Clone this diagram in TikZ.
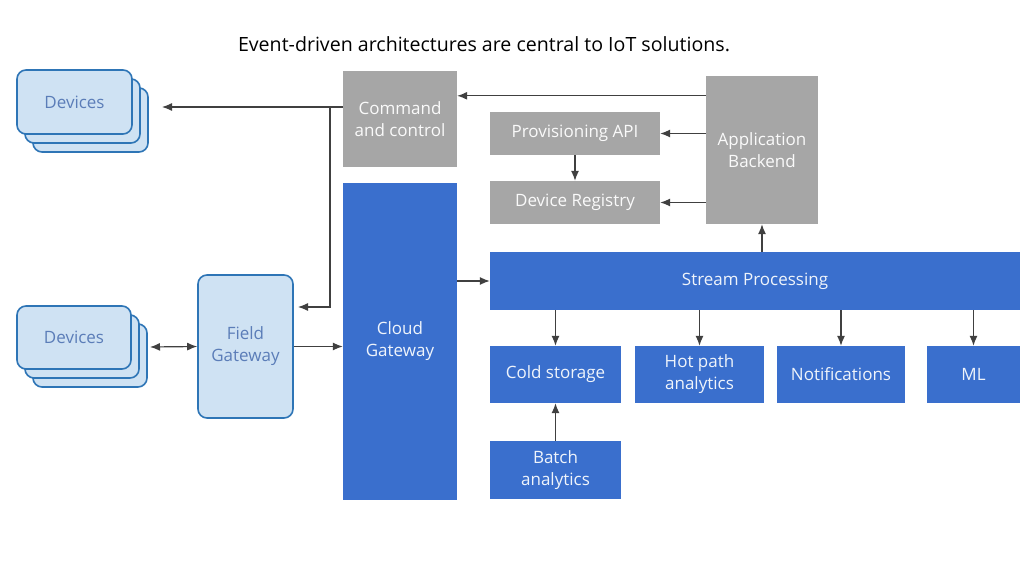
\documentclass[tikz,border=0pt]{standalone}
\usepackage{fontspec}
\setmainfont{Open Sans}
\usetikzlibrary{arrows.meta,shadows}

\definecolor{cloudblue}{HTML}{3A6FCD}
\definecolor{paleblue}{HTML}{CFE2F3}
\definecolor{edgeblue}{HTML}{2E75B6}
\definecolor{devtext}{HTML}{5B7DB8}
\definecolor{boxgray}{HTML}{A6A6A6}
\definecolor{arrowgray}{HTML}{404040}

\tikzset{
  bluebox/.style={fill=cloudblue,text=white!92!cloudblue,align=center,inner sep=0pt,font=\fontsize{17}{22}\selectfont},
  graybox/.style={fill=boxgray,text=white!94!boxgray,align=center,inner sep=0pt,font=\fontsize{17}{22}\selectfont},
  edgebox/.style={draw=edgeblue,line width=1.6pt,fill=paleblue,text=devtext,rounded corners=9pt,align=center,inner sep=0pt,font=\fontsize{17}{22}\selectfont},
  arr/.style={draw=arrowgray,line width=1.2pt,-{Latex[length=10pt,width=8pt]}},
  arrboth/.style={draw=arrowgray,line width=1.2pt,{Latex[length=10pt,width=8pt]}-{Latex[length=10pt,width=8pt]}}
}

\begin{document}
\begin{tikzpicture}[x=1pt,y=-1pt]
\useasboundingbox (0,0) rectangle (1034,564);
\fill[white] (0,0) rectangle (1034,564);
\node[font=\fontsize{19.6}{24}\selectfont] (title) at (484,44) {Event-driven architectures are central to IoT solutions.};

  \begin{scope}[every node/.append style={double copy shadow={shadow xshift=8pt,shadow yshift=-9pt}}]
    \node [edgebox,minimum width=115pt,minimum height=64pt] at (74.5,102) (devA) {Devices};
    \node [edgebox,minimum width=114pt,minimum height=63pt] at (74,337.5) (devB) {Devices};
  \end{scope}
  \node [edgebox,minimum width=95pt,minimum height=143pt] at (245.5,346.5) (field) {Field\\Gateway};

  \node [graybox,minimum width=114pt,minimum height=96pt] at (400,119) (cmd) {Command\\and control};
  \node [bluebox,minimum width=114pt,minimum height=317pt] at (400,341.5) (cloud) {Cloud\\Gateway};
  \node [graybox,minimum width=112pt,minimum height=148pt] at (762,150) (backend) {Application\\Backend};
  \node [graybox,minimum width=170pt,minimum height=43pt] at (575,133.5) (prov) {Provisioning API};
  \node [graybox,minimum width=170pt,minimum height=43pt] at (575,202.5) (reg) {Device Registry};
  \node [bluebox,minimum width=530pt,minimum height=58pt] at (755,281) (stream) {Stream Processing};

  \node [bluebox,minimum width=131pt,minimum height=57pt] at (555.5,374.5) (cold) {Cold storage};
  \node [bluebox,minimum width=129pt,minimum height=57pt] at (699.5,374.5) (hot) {Hot path\\analytics};
  \node [bluebox,minimum width=128pt,minimum height=57pt] at (841,374.5) (notif) {Notifications};
  \node [bluebox,minimum width=93pt,minimum height=57pt] at (973.5,374.5) (ml) {ML};
  \node [bluebox,minimum width=131pt,minimum height=58pt] at (555.5,470) (batch) {Batch\\analytics};

  \coordinate (devAin) at (162,107);
  \coordinate (split) at (330,107);
  \coordinate (fieldin) at (298,307);
  \coordinate (devBout) at (150,347);

  % command path back to the devices
  \path [arr] (cmd.west |- devAin) -- (devAin);
  \path [arr] (split) |- (fieldin);
  \path [arrboth] (devBout) -- (field.west);
  \path [arr] (field.east) -- (cloud.west |- field.east);
  \path [arr] (cloud.east |- stream.west) -- (stream.west);

  % backend
  \path [arr] ([yshift=-20pt]backend.north west) -- ([yshift=-20pt]backend.north west -| cmd.east);
  \path [arr] (backend.west |- prov) -- (prov.east);
  \path [arr] (backend.west |- reg) -- (reg.east);
  \path [arr] (prov) -- (reg);
  \path [arr] (stream.north -| backend) -- (backend.south);

  % stream outputs
  \foreach \n in {cold,hot,notif,ml}
    \path [arr] (stream.south -| \n) -- (\n.north);
  \path [arr] (batch) -- (cold);
\end{tikzpicture}
\end{document}
